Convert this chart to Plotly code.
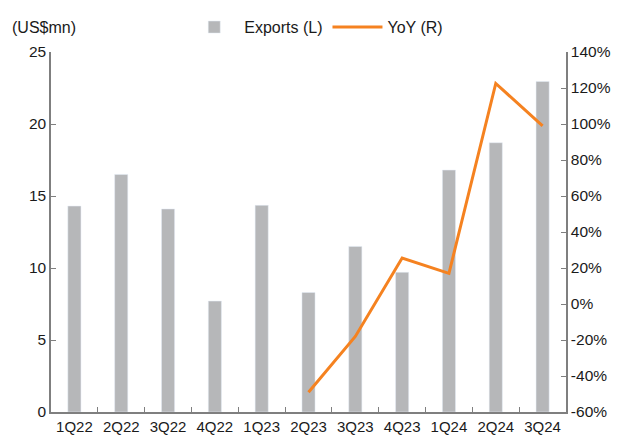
import plotly.graph_objects as go

quarters = ["1Q22", "2Q22", "3Q22", "4Q22", "1Q23", "2Q23",
            "3Q23", "4Q23", "1Q24", "2Q24", "3Q24"]
exports = [14.3, 16.5, 14.1, 7.7, 14.35, 8.3, 11.5, 9.7, 16.8, 18.7, 22.95]
yoy = [None, None, None, None, None, -49, -18, 25.5, 17, 122.5, 99]
yoy_ticks = [-0.6, -0.4, -0.2, 0, 0.2, 0.4, 0.6, 0.8, 1.0, 1.2, 1.4]
yoy_labels = ["-60%", "-40%", "-20%", "0%", "20%", "40%", "60%",
              "80%", "100%", "120%", "140%"]

FONT = "Liberation Sans, Arial, sans-serif"
AXIS_COLOR = "#7f7f7f"

fig = go.Figure()
fig.add_trace(
    go.Bar(
        x=quarters,
        y=exports,
        name="Exports (L)",
        marker_color="#b6b7b9",
        width=0.28,
    )
)
fig.add_trace(
    go.Scatter(
        x=quarters,
        y=[v / 100 if v is not None else None for v in yoy],
        name="YoY (R)",
        mode="lines",
        line=dict(color="#f58220", width=3),
        yaxis="y2",
    )
)

fig.update_layout(
    width=623,
    height=443,
    margin=dict(l=51, r=57, t=52, b=31, autoexpand=False),
    plot_bgcolor="white",
    paper_bgcolor="white",
    font=dict(family=FONT, size=16, color="#1a1a1a"),
    showlegend=True,
    legend=dict(
        orientation="h",
        x=0.515,
        xanchor="center",
        y=1.069,
        yanchor="middle",
        font=dict(size=16),
        itemwidth=50,
        bgcolor="rgba(0,0,0,0)",
    ),
    annotations=[
        dict(
            text="(US$mn)",
            x=0,
            y=1.069,
            xref="paper",
            yref="paper",
            xanchor="left",
            yanchor="middle",
            xshift=-41,
            showarrow=False,
            font=dict(size=16),
        )
    ],
)

fig.update_xaxes(
    type="category",
    range=[-0.5, 10.5],
    automargin=False,
    showline=True,
    linecolor=AXIS_COLOR,
    linewidth=1.5,
    ticks="inside",
    tickson="boundaries",
    ticklen=5,
    tickcolor=AXIS_COLOR,
    showgrid=False,
    tickangle=0,
    tickfont=dict(size=15),
)
fig.update_yaxes(
    range=[0, 25],
    dtick=5,
    automargin=False,
    showline=True,
    linecolor=AXIS_COLOR,
    linewidth=1.5,
    ticks="inside",
    ticklen=5,
    tickcolor=AXIS_COLOR,
    showgrid=False,
    zeroline=False,
    tickfont=dict(size=15.5),
)
fig.update_layout(
    yaxis2=dict(
        overlaying="y",
        side="right",
        range=[-0.6, 1.4],
        tickvals=yoy_ticks,
        ticktext=yoy_labels,
        automargin=False,
        showline=True,
        linecolor=AXIS_COLOR,
        linewidth=1.5,
        ticks="inside",
        ticklen=5,
        tickcolor=AXIS_COLOR,
        showgrid=False,
        zeroline=False,
        tickfont=dict(size=15.5),
    )
)

# the page body has a default 8px margin; drop it so the figure sits at 0,0
fig.write_html(
    "out.html",
    config={"displayModeBar": False},
    post_script="document.body.style.margin='0';",
)
